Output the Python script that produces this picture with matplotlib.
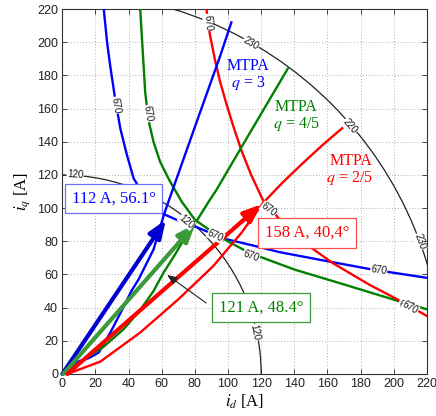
import matplotlib
matplotlib.use("Agg")
import matplotlib.pyplot as plt
from matplotlib.patches import Arc

plt.rcParams['mathtext.fontset'] = 'stix'
plt.rcParams['font.family'] = ['Liberation Sans', 'DejaVu Sans']

# ---------------- data ----------------
ticks = [0, 20, 40, 60, 80, 100, 120, 140, 160, 180, 200, 220]

# current-limit circles [A]
current_limits = [120, 230]

# voltage-limit (670) curves
blue_670_x = [25, 27, 29, 32, 35, 39, 43, 49, 55, 61, 70, 80, 93, 98, 115, 131, 160, 187, 220]
blue_670_y = [220, 200, 185, 165, 148, 132, 118, 108, 101, 96.5, 92.5, 89, 83.5, 81.5, 77.5, 73.5, 68, 63, 58]
green_670_x = [47, 48.5, 50, 52, 55, 59, 64.5, 72, 80, 90, 99, 113, 140, 170, 206, 220]
green_670_y = [220, 195, 170, 153, 140, 128, 117, 104, 93, 86, 80.5, 73, 63, 54, 43, 39]
red_670_x = [87, 89, 92, 95, 99, 103, 108, 114, 121, 133, 149, 163, 185, 206, 220]
red_670_y = [220, 205, 190, 177, 163, 150, 135, 120, 105, 91, 77, 67, 54, 43, 35]

# MTPA trajectories
blue_mtpa_x = [0, 8, 16, 22, 29, 36, 42, 46, 55, 61, 63, 80, 95, 102]
blue_mtpa_y = [0, 7, 9.6, 13, 25, 38.6, 50.6, 57, 75, 95, 101, 149, 191, 212]
green_mtpa_x = [0, 12, 25, 37, 47, 55, 61, 68, 75, 79, 89, 93, 110, 136]
green_mtpa_y = [0, 8, 16.5, 27, 38.6, 50, 61, 72, 84, 89, 105, 111, 140, 184]
red_mtpa_x = [3, 23, 47, 70, 91, 108, 121, 133, 145, 157, 171]
red_mtpa_y = [0, 7.5, 25, 45, 65, 85, 103, 115.5, 127, 138, 150]

# operating-point current vectors: magnitude [A], angle [deg]
vec_mag = [112, 121, 158]
vec_ang = [56.1, 48.4, 40.4]
vec_tip_x = [62.5, 80.3, 120.3]
vec_tip_y = [93.0, 90.5, 102.4]
vec_start_x = [0, 0.5, 3]
vec_labels = ['112 A, 56.1°', '121 A, 48.4°', '158 A, 40,4°']

# ---------------- figure ----------------
fig = plt.figure(figsize=(4.36, 4.16), dpi=100)
ax = fig.add_axes([0.143, 0.101, 0.836, 0.877])
ax.set_xlim(0, 220)
ax.set_ylim(0, 220)
ax.set_xticks(ticks)
ax.set_yticks(ticks)
ax.tick_params(direction='in', length=3.5, width=0.6, top=True, right=True,
               labelsize=9, colors='#222222', pad=3)
for s in ax.spines.values():
    s.set_linewidth(0.8)
    s.set_color('#333333')
ax.grid(True, linestyle=(0, (1, 2.5)), color='#999999', linewidth=0.6)
ax.set_axisbelow(True)

# current limit circles
for r in current_limits:
    ax.add_patch(Arc((0, 0), 2 * r, 2 * r, theta1=0, theta2=90,
                     color='#222222', lw=0.9, zorder=2))

BLUE = '#0000ff'
GREEN = '#008000'
RED = '#ff0000'
lw = 1.7
ax.plot(blue_670_x, blue_670_y, color=BLUE, lw=lw, zorder=3)
ax.plot(green_670_x, green_670_y, color=GREEN, lw=lw, zorder=3)
ax.plot(red_670_x, red_670_y, color=RED, lw=lw, zorder=3)
ax.plot(blue_mtpa_x, blue_mtpa_y, color=BLUE, lw=lw, zorder=3)
ax.plot(green_mtpa_x, green_mtpa_y, color=GREEN, lw=lw, zorder=3)
ax.plot(red_mtpa_x, red_mtpa_y, color=RED, lw=lw, zorder=3)

# thick current vectors
vec_colors = ['#0000d0', '#3a9a3a', '#ff0000']
for i in range(3):
    ax.annotate('', xy=(vec_tip_x[i], vec_tip_y[i]), xytext=(vec_start_x[i], 0),
                arrowprops=dict(arrowstyle='-|>,head_length=0.9,head_width=0.35',
                                color=vec_colors[i], lw=3, shrinkA=0, shrinkB=0,
                                mutation_scale=12),
                zorder=5)

# contour labels
lab_kw = dict(fontsize=7, ha='center', va='center', color='#111111', zorder=6,
              bbox=dict(boxstyle='square,pad=0.05', fc='white', ec='none'))
ax.text(7.7, 120, '120', rotation=-4, **lab_kw)
ax.text(75, 92, '120', rotation=-40, **lab_kw)
ax.text(116, 25, '120', rotation=-78, **lab_kw)
ax.text(114, 199.6, '230', rotation=-30, **lab_kw)
ax.text(173.4, 149.2, '220', rotation=-49, **lab_kw)
ax.text(215.7, 79.9, '230', rotation=-70, **lab_kw)
ax.text(32, 162, '670', rotation=-81, **lab_kw)
ax.text(51.5, 157, '670', rotation=-80, **lab_kw)
ax.text(88, 212, '670', rotation=-86, **lab_kw)
ax.text(92.5, 83.5, '670', rotation=-25, **lab_kw)
ax.text(114, 71, '670', rotation=-20, **lab_kw)
ax.text(124.5, 99, '670', rotation=-37, **lab_kw)
ax.text(191, 62.5, '670', rotation=-8, **lab_kw)
ax.text(208, 41, '670', rotation=-15, **lab_kw)
ax.text(210, 40, '670', rotation=-30, **lab_kw)

# operating point boxes
serif = ['Liberation Serif', 'DejaVu Serif']
box_pos = [(31, 106), (120, 40), (147.6, 85)]
box_ec = ['#7070ff', '#3a9a3a', '#ff5050']
txt_colors = [BLUE, GREEN, RED]
for i in range(3):
    ax.text(box_pos[i][0], box_pos[i][1], vec_labels[i], family=serif, fontsize=12,
            color=txt_colors[i], ha='center', va='center', zorder=7,
            bbox=dict(boxstyle='square,pad=0.4', fc='white', ec=box_ec[i], lw=0.9))

# pointer from green box
ax.annotate('', xy=(63.3, 59.7), xytext=(86.8, 42.8),
            arrowprops=dict(arrowstyle='-|>,head_length=0.6,head_width=0.25',
                            color='#222222', lw=0.8, shrinkA=0, shrinkB=0,
                            mutation_scale=10), zorder=6)

# MTPA labels
mt_kw = dict(family=serif, fontsize=11.5, ha='center', va='center', zorder=6)
ax.text(112.2, 186.0, 'MTPA', color=BLUE, **mt_kw)
ax.text(112.2, 175.6, r'$q$ = 3', color=BLUE, **mt_kw)
ax.text(141.2, 161.2, 'MTPA', color=GREEN, **mt_kw)
ax.text(141.2, 150.8, r'$q$ = 4/5', color=GREEN, **mt_kw)
ax.text(174.4, 128.6, 'MTPA', color=RED, **mt_kw)
ax.text(173.2, 118.0, r'$q$ = 2/5', color=RED, **mt_kw)

ax.set_xlabel(r'$i_d$ [A]', family=serif, fontsize=12, labelpad=2)
ax.set_ylabel(r'$i_q$ [A]', family=serif, fontsize=12, labelpad=4)

fig.savefig('out.png', dpi=100)
